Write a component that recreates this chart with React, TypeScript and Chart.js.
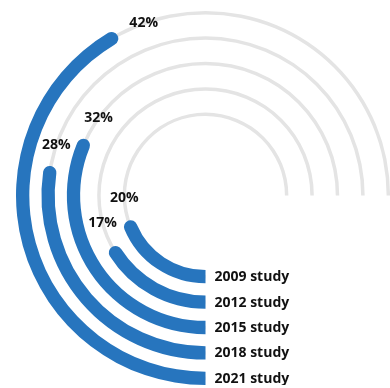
import React, { useEffect, useRef } from 'react';
import { Chart, registerables } from 'chart.js';
Chart.register(...registerables);

// ---- data ----
const studyLabels = ['2009 study', '2012 study', '2015 study', '2018 study', '2021 study'];
const shareValues = [20, 17, 32, 28, 42]; // percent of respondents
const trackValue = 75; // grey track length, in percent of full circle
const scaleMax = 100;

// ---- style ----
const BLUE = '#2775be';
const GRAY = '#e4e4e4';
const CLEAR = 'rgba(0,0,0,0)';
const TEXT = '#111111';
const RING_W = 13.3;
const GAP_W = 12.1;
const TRACK_W = 3.5;
const SIZE = 379;
const CUTOUT = 74.5;
const FONT = '700 14px "Open Sans", sans-serif';

const outerFirst = [4, 3, 2, 1, 0];

function blueDatasets() {
  const ds: any[] = [];
  outerFirst.forEach((i, k) => {
    if (k > 0) ds.push({ data: [scaleMax], backgroundColor: [CLEAR], weight: GAP_W });
    ds.push({
      label: studyLabels[i],
      data: [shareValues[i], scaleMax - shareValues[i]],
      backgroundColor: [BLUE, CLEAR],
      weight: RING_W,
      borderRadius: (c: any) =>
        c.dataIndex === 0 ? { outerStart: 0, innerStart: 0, outerEnd: 7, innerEnd: 7 } : 0,
    });
  });
  return ds;
}

function grayDatasets() {
  const ds: any[] = [];
  const side = (RING_W - TRACK_W) / 2;
  outerFirst.forEach((i, k) => {
    if (k > 0) ds.push({ data: [scaleMax], backgroundColor: [CLEAR], weight: GAP_W });
    ds.push({ data: [scaleMax], backgroundColor: [CLEAR], weight: side });
    ds.push({
      data: [trackValue, scaleMax - trackValue],
      backgroundColor: [GRAY, CLEAR],
      weight: TRACK_W,
    });
    ds.push({ data: [scaleMax], backgroundColor: [CLEAR], weight: side });
  });
  return ds;
}

const labelPlugin = {
  id: 'ringLabels',
  afterDatasetsDraw(chart: any) {
    const ctx = chart.ctx;
    ctx.save();
    ctx.font = FONT;
    ctx.fillStyle = TEXT;
    ctx.textBaseline = 'middle';
    chart.data.datasets.forEach((ds: any, di: number) => {
      if (!ds.label) return;
      const arc = chart.getDatasetMeta(di).data[0];
      const { x, y, startAngle, endAngle, innerRadius, outerRadius } = arc.getProps(
        ['x', 'y', 'startAngle', 'endAngle', 'innerRadius', 'outerRadius'],
        true
      );
      const r = (innerRadius + outerRadius) / 2;
      const th = outerRadius - innerRadius;
      ctx.textAlign = 'left';
      ctx.fillText(ds.label, x + r * Math.cos(startAngle) + 9, y + r * Math.sin(startAngle) + 0.5);
      const txt = ds.data[0] + '%';
      const w = ctx.measureText(txt).width;
      const h = 11;
      const tx = -Math.sin(endAngle);
      const ty = Math.cos(endAngle);
      const half = (w / 2) * Math.abs(tx) + (h / 2) * Math.abs(ty);
      const d = th / 2 + 7 + half;
      const a = endAngle + d / r;
      ctx.textAlign = 'center';
      ctx.fillText(txt, x + r * Math.cos(a), y + r * Math.sin(a));
    });
    ctx.restore();
  },
};

const commonOptions: any = {
  responsive: false,
  animation: false,
  rotation: 180,
  circumference: 360,
  cutout: CUTOUT,
  events: [],
  layout: { padding: 0 },
  plugins: { legend: { display: false }, tooltip: { enabled: false } },
  elements: { arc: { borderWidth: 0, offset: 0, hoverOffset: 0 } },
};

export default function App() {
  const grayRef = useRef<HTMLCanvasElement>(null);
  const blueRef = useRef<HTMLCanvasElement>(null);

  useEffect(() => {
    const g = new Chart(grayRef.current as HTMLCanvasElement, {
      type: 'doughnut',
      data: { labels: ['track', 'rest'], datasets: grayDatasets() },
      options: commonOptions,
    });
    const b = new Chart(blueRef.current as HTMLCanvasElement, {
      type: 'doughnut',
      data: { labels: ['share', 'rest'], datasets: blueDatasets() },
      options: commonOptions,
      plugins: [labelPlugin],
    });
    return () => {
      g.destroy();
      b.destroy();
    };
  }, []);

  const canvasStyle: React.CSSProperties = { position: 'absolute', left: 16, top: 6 };
  return (
    <div
      style={{
        position: 'fixed',
        left: 0,
        top: 0,
        width: 390,
        height: 388,
        overflow: 'hidden',
        background: '#fff',
      }}
    >
      <canvas ref={grayRef} width={SIZE} height={SIZE} style={canvasStyle} />
      <canvas ref={blueRef} width={SIZE} height={SIZE} style={canvasStyle} />
    </div>
  );
}
